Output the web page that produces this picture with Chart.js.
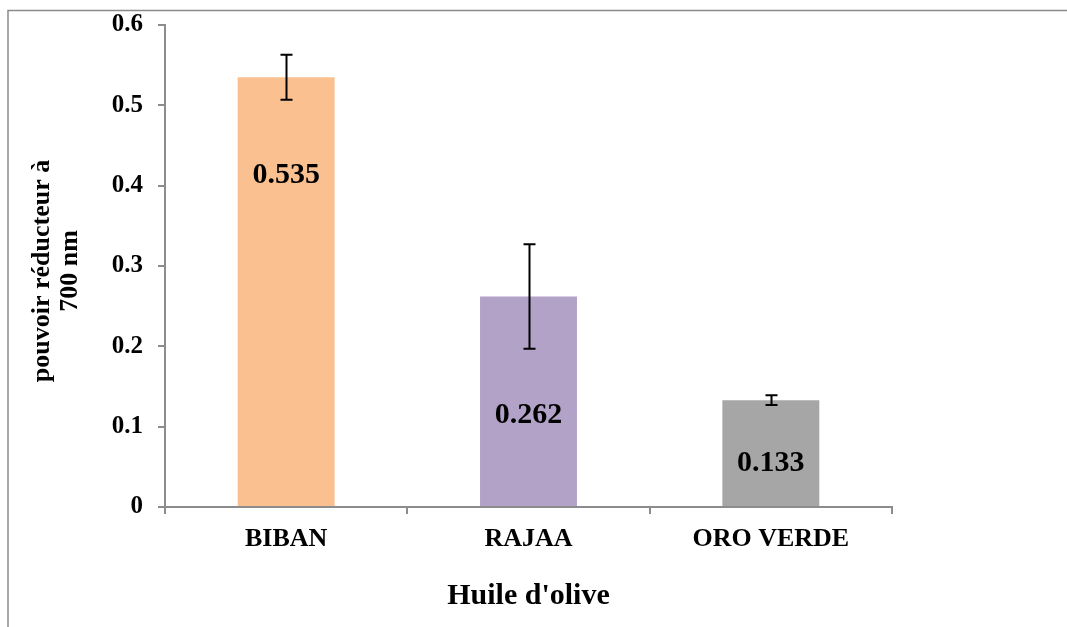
<!DOCTYPE html>
<html>
<head>
<meta charset="utf-8">
<script src="https://cdn.jsdelivr.net/npm/chart.js@4.4.1/dist/chart.umd.min.js"></script>
<style>
  html, body { margin: 0; padding: 0; background: #fff; }
  #wrap { width: 1067px; height: 627px; position: relative; }
</style>
</head>
<body>
<div id="wrap"><canvas id="reducingPowerChart" width="1067" height="627"></canvas></div>
<script>
const oils = ['BIBAN', 'RAJAA', 'ORO VERDE'];
const reducingPower = [0.535, 0.262, 0.133];
const errors = [0.028, 0.065, 0.006];
const barColors = ['#FAC090', '#B3A2C7', '#A6A6A6'];
// where the value labels sit inside the bars (in axis units)
const labelAt = [0.413, 0.114, 0.055];
const yTitle = ['pouvoir réducteur à', '700 nm'];
const xTitle = "Huile d'olive";

const FONT = "'Liberation Serif', 'Times New Roman', serif";
const axisGray = '#8c8c8c';

const extras = {
  id: 'extras',
  beforeDraw(chart) {
    const ctx = chart.ctx;
    ctx.save();
    ctx.fillStyle = '#fff';
    ctx.fillRect(0, 0, chart.width, chart.height);
    // outer frame (left + top)
    ctx.strokeStyle = '#8a8a8a';
    ctx.lineWidth = 1.5;
    ctx.beginPath();
    ctx.moveTo(8, chart.height);
    ctx.lineTo(8, 10.5);
    ctx.lineTo(chart.width, 10.5);
    ctx.stroke();
    ctx.restore();
  },
  afterDatasetsDraw(chart) {
    const ctx = chart.ctx;
    const x = chart.scales.x, y = chart.scales.y;
    const meta = chart.getDatasetMeta(0);
    ctx.save();
    // error bars
    ctx.strokeStyle = '#000';
    ctx.lineWidth = 2;
    meta.data.forEach((bar, i) => {
      const cx = Math.round(bar.x) + 0.5;
      const top = y.getPixelForValue(reducingPower[i] + errors[i]);
      const bot = y.getPixelForValue(reducingPower[i] - errors[i]);
      ctx.beginPath();
      ctx.moveTo(cx, top); ctx.lineTo(cx, bot);
      ctx.moveTo(cx - 6, top); ctx.lineTo(cx + 6, top);
      ctx.moveTo(cx - 6, bot); ctx.lineTo(cx + 6, bot);
      ctx.stroke();
    });
    // value labels
    ctx.fillStyle = '#000';
    ctx.font = 'bold 30px ' + FONT;
    ctx.textAlign = 'center';
    ctx.textBaseline = 'middle';
    meta.data.forEach((bar, i) => {
      ctx.fillText(reducingPower[i].toFixed(3), bar.x, y.getPixelForValue(labelAt[i]));
    });
    // axis titles
    ctx.font = 'bold 30px ' + FONT;
    ctx.fillText(xTitle, (x.left + x.right) / 2, 596);
    ctx.font = 'bold 26px ' + FONT;
    ctx.translate(56, 271);
    ctx.rotate(-Math.PI / 2);
    ctx.fillText(yTitle[0], 0, -14);
    ctx.fillText(yTitle[1], 0, 14);
    ctx.restore();
  }
};

new Chart(document.getElementById('reducingPowerChart'), {
  type: 'bar',
  data: {
    labels: oils,
    datasets: [{
      data: reducingPower,
      backgroundColor: barColors,
      borderWidth: 0,
      barPercentage: 0.8,
      categoryPercentage: 0.5
    }]
  },
  options: {
    responsive: false,
    animation: false,
    events: [],
    layout: { padding: { left: 0, right: 175, top: 0, bottom: 0 } },
    plugins: {
      legend: { display: false },
      tooltip: { enabled: false }
    },
    scales: {
      x: {
        afterFit(scale) { scale.height = 120; },
        border: { color: axisGray, width: 2 },
        grid: { drawOnChartArea: false, drawTicks: true, tickLength: 7, color: axisGray, lineWidth: 2, offset: true },
        ticks: { color: '#000', font: { family: FONT, size: 26, weight: 'bold' }, padding: 10, maxRotation: 0 }
      },
      y: {
        min: 0,
        max: 0.6,
        afterFit(scale) { scale.width = 165; },
        border: { color: axisGray, width: 2 },
        grid: { drawOnChartArea: false, drawTicks: true, tickLength: 7, color: axisGray, lineWidth: 2 },
        ticks: { stepSize: 0.1, color: '#000', font: { family: FONT, size: 25, weight: 'bold', lineHeight: 0.8 }, padding: 15 }
      }
    }
  },
  plugins: [extras]
});
</script>
</body>
</html>
